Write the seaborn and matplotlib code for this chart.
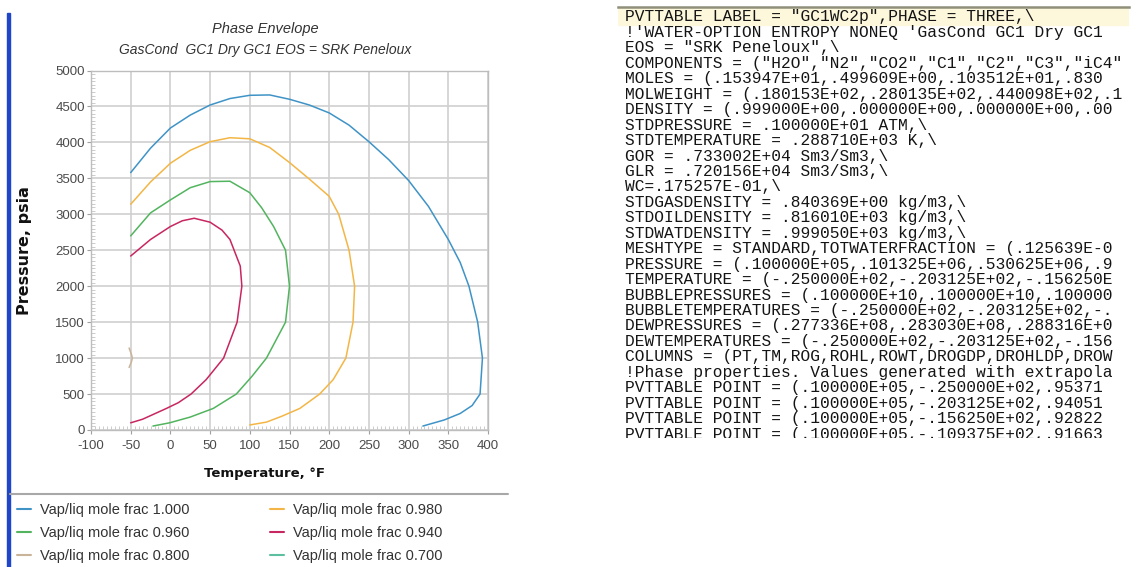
import matplotlib
matplotlib.use("Agg")
import matplotlib.pyplot as plt
from matplotlib.ticker import MultipleLocator
from matplotlib.lines import Line2D
from matplotlib.patches import Rectangle
import pandas as pd
import seaborn as sns

# ---------------- data ----------------
series_labels = ["Vap/liq mole frac 1.000", "Vap/liq mole frac 0.980",
                 "Vap/liq mole frac 0.960", "Vap/liq mole frac 0.940",
                 "Vap/liq mole frac 0.800", "Vap/liq mole frac 0.700"]
series_colors = ["#3f93c6", "#f3b646", "#52b45e", "#c82660", "#c9b49a", "#5cbfa0"]

t_100 = [-50, -25, 0, 25, 50, 75, 100, 125, 150, 175, 200, 225, 250, 275, 300,
         325, 350, 365, 376, 387, 393, 390, 380, 365, 345, 318]
p_100 = [3580, 3920, 4200, 4380, 4520, 4610, 4655, 4660, 4600, 4520, 4410, 4240,
         4010, 3760, 3470, 3110, 2650, 2330, 2000, 1500, 1000, 500, 340, 230, 140, 55]

t_098 = [-50, -25, 0, 25, 50, 75, 100, 125, 150, 175, 200, 212, 225, 232, 230,
         221, 205, 188, 163, 140, 121, 100]
p_098 = [3140, 3450, 3710, 3890, 4010, 4065, 4050, 3930, 3720, 3490, 3250, 3000,
         2500, 2000, 1500, 1000, 700, 500, 300, 190, 110, 70]

t_096 = [-50, -25, 0, 25, 50, 75, 100, 115, 130, 145, 150, 145, 121, 103, 83,
         54, 25, -1, -22]
p_096 = [2700, 3020, 3200, 3370, 3455, 3460, 3300, 3090, 2830, 2500, 2000, 1500,
         1000, 750, 500, 300, 180, 100, 55]

t_094 = [-50, -25, 0, 15, 30, 50, 65, 75, 88, 90, 84, 67, 45, 26, 10, -5, -35, -50]
p_094 = [2420, 2650, 2830, 2910, 2945, 2890, 2780, 2650, 2280, 2000, 1500, 1000,
         700, 500, 380, 300, 150, 100]

t_080 = [-52, -49, -48, -49, -52]
p_080 = [1140, 1050, 1000, 950, 870]

t_070 = []
p_070 = []

x_ticks = [-100, -50, 0, 50, 100, 150, 200, 250, 300, 350, 400]
y_ticks = [0, 500, 1000, 1500, 2000, 2500, 3000, 3500, 4000, 4500, 5000]

title_line1 = "Phase Envelope"
title_line2 = "GasCond  GC1 Dry GC1 EOS = SRK Peneloux"
x_label = "Temperature, °F"
y_label = "Pressure, psia"

code_lines = [
    'PVTTABLE LABEL = "GC1WC2p",PHASE = THREE,\\',
    "!'WATER-OPTION ENTROPY NONEQ 'GasCond GC1 Dry GC1",
    'EOS = "SRK Peneloux",\\',
    'COMPONENTS = ("H2O","N2","CO2","C1","C2","C3","iC4"',
    'MOLES = (.153947E+01,.499609E+00,.103512E+01,.830',
    'MOLWEIGHT = (.180153E+02,.280135E+02,.440098E+02,.1',
    'DENSITY = (.999000E+00,.000000E+00,.000000E+00,.00',
    'STDPRESSURE = .100000E+01 ATM,\\',
    'STDTEMPERATURE = .288710E+03 K,\\',
    'GOR = .733002E+04 Sm3/Sm3,\\',
    'GLR = .720156E+04 Sm3/Sm3,\\',
    'WC=.175257E-01,\\',
    'STDGASDENSITY = .840369E+00 kg/m3,\\',
    'STDOILDENSITY = .816010E+03 kg/m3,\\',
    'STDWATDENSITY = .999050E+03 kg/m3,\\',
    'MESHTYPE = STANDARD,TOTWATERFRACTION = (.125639E-0',
    'PRESSURE = (.100000E+05,.101325E+06,.530625E+06,.9',
    'TEMPERATURE = (-.250000E+02,-.203125E+02,-.156250E',
    'BUBBLEPRESSURES = (.100000E+10,.100000E+10,.100000',
    'BUBBLETEMPERATURES = (-.250000E+02,-.203125E+02,-.',
    'DEWPRESSURES = (.277336E+08,.283030E+08,.288316E+0',
    'DEWTEMPERATURES = (-.250000E+02,-.203125E+02,-.156',
    'COLUMNS = (PT,TM,ROG,ROHL,ROWT,DROGDP,DROHLDP,DROW',
    '!Phase properties. Values generated with extrapola',
    'PVTTABLE POINT = (.100000E+05,-.250000E+02,.95371',
    'PVTTABLE POINT = (.100000E+05,-.203125E+02,.94051',
    'PVTTABLE POINT = (.100000E+05,-.156250E+02,.92822',
    'PVTTABLE POINT = (.100000E+05,-.109375E+02,.91663',
]

# ---------------- build frame ----------------
all_t = [t_100, t_098, t_096, t_094, t_080, t_070]
all_p = [p_100, p_098, p_096, p_094, p_080, p_070]
rows = []
for lab, ts, ps in zip(series_labels, all_t, all_p):
    for i, (t, p) in enumerate(zip(ts, ps)):
        rows.append({"series": lab, "T": t, "P": p, "order": i})
df = pd.DataFrame(rows)
palette = dict(zip(series_labels, series_colors))

# ---------------- figure ----------------
sns.set_style("white")
plt.rcParams["font.family"] = ["Liberation Sans", "DejaVu Sans"]
plt.rcParams["axes.unicode_minus"] = False

W, H = 1136, 567
fig = plt.figure(figsize=(W / 100, H / 100), dpi=100)
fig.patch.set_facecolor("white")

def fx(px):
    return px / W

def fy(py):
    return 1 - py / H

ax_l, ax_r, ax_t, ax_b = 91, 488, 70.5, 430
ax = fig.add_axes([fx(ax_l), fy(ax_b), fx(ax_r - ax_l), (ax_b - ax_t) / H])

sns.lineplot(data=df, x="T", y="P", hue="series", palette=palette,
             hue_order=series_labels, sort=False, estimator=None,
             legend=False, ax=ax, linewidth=1.1)

ax.set_xlim(x_ticks[0], x_ticks[-1])
ax.set_ylim(y_ticks[0], y_ticks[-1])
ax.set_xticks(x_ticks)
ax.set_yticks(y_ticks)
ax.xaxis.set_minor_locator(MultipleLocator(5))
ax.yaxis.set_minor_locator(MultipleLocator(50))
ax.grid(True, which="major", color="#cfcfcf", linewidth=1.2)
ax.set_axisbelow(True)
for s in ax.spines.values():
    s.set_color("#bdbdbd")
    s.set_linewidth(1.0)
ax.tick_params(which="both", bottom=True, left=True, top=False, right=False)
ax.tick_params(which="major", direction="out", length=3, width=0.8,
               color="#a0a0a0", labelsize=9.5, labelcolor="#4a4a4a")
ax.tick_params(axis="y", which="major", pad=1.5)
ax.tick_params(axis="x", which="major", pad=4.5)
ax.tick_params(which="minor", direction="in", length=3, width=0.6,
               color="#c4c4c4")

ax.set_xlabel(x_label, fontsize=9.5, fontweight="bold", color="#111111",
              family="DejaVu Sans")
ax.set_ylabel(y_label, fontsize=11.5, fontweight="bold", color="#111111",
              family="DejaVu Sans")
ax.xaxis.set_label_coords((265 - ax_l) / (ax_r - ax_l), -(467 - ax_b) / (ax_b - ax_t))
ax.yaxis.set_label_coords(-(ax_l - 32) / (ax_r - ax_l), 0.5)

fig.text(fx(265), fy(29), title_line1, ha="center", va="center",
         fontsize=10.5, style="italic", color="#333333")
fig.text(fx(265), fy(50), title_line2, ha="center", va="center",
         fontsize=10, style="italic", color="#333333")

# left blue frame bar and separator line
fig.patches.append(Rectangle((fx(7), 0), fx(3), (H - 13) / H,
                             transform=fig.transFigure, color="#1f46c6"))
fig.lines.append(Line2D([fx(10), fx(508)], [fy(494), fy(494)],
                        transform=fig.transFigure, color="#a8a8a8", lw=1.5))

# legend (two columns)
handles = [Line2D([], [], color=c, lw=1.5) for c in series_colors]
col1 = [0, 2, 4]
col2 = [1, 3, 5]
for idx, xpix in ((col1, 17), (col2, 270)):
    fig.legend([handles[i] for i in idx], [series_labels[i] for i in idx],
               loc="upper left", bbox_to_anchor=(fx(xpix), fy(503)),
               bbox_transform=fig.transFigure, frameon=False, fontsize=10.5,
               handlelength=0.95, handletextpad=0.65, borderpad=0,
               borderaxespad=0, labelspacing=0.62, labelcolor="#333333")

# ---------------- text panel ----------------
tx_l, tx_r, tx_t, tx_b = 618, 1129, 7, 438
axt = fig.add_axes([fx(tx_l), fy(tx_b), fx(tx_r - tx_l), (tx_b - tx_t) / H])
row_h = 15.45
top_row = -(17 - tx_t) / row_h
axt.set_ylim(top_row + (tx_b - tx_t) / row_h, top_row)
axt.set_xlim(0, 1)
axt.set_xticks([])
axt.set_yticks([])
for k, s in axt.spines.items():
    s.set_visible(k == "top")
axt.spines["top"].set_color("#8f8f7a")
axt.spines["top"].set_linewidth(1.8)
axt.axhspan(top_row, 0.5, color="#fdf8dc", zorder=0)
axt.set_facecolor("white")
for i, line in enumerate(code_lines):
    axt.text((625 - tx_l) / (tx_r - tx_l), i, line, ha="left", va="center",
             family="Liberation Mono", fontsize=11.7, color="#141414",
             clip_on=True)

fig.savefig("out.png", dpi=100, facecolor="white")
